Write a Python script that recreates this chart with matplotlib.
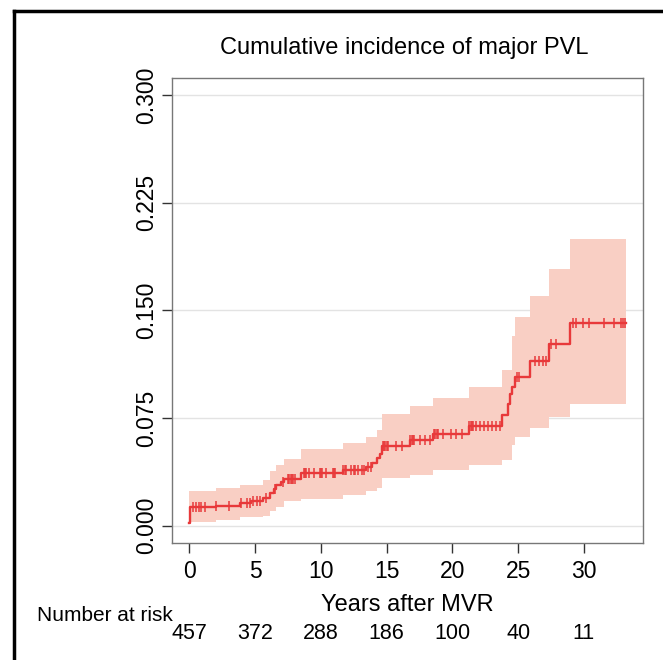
import numpy as np
import matplotlib
matplotlib.use("Agg")
import matplotlib.pyplot as plt
from matplotlib.transforms import blended_transform_factory
from matplotlib.lines import Line2D

plt.rcParams['font.family'] = ['Liberation Sans', 'DejaVu Sans']

# step times (years) and cumulative incidence with 95% CI
times = [0, 0.05, 2.03, 3.85, 4.69, 5.6, 6.09, 6.4, 6.6, 6.98, 7.2, 8.45,
         11.65, 13.4, 13.9, 14.25, 14.46, 14.66, 16.74, 18.55, 21.26,
         23.8, 24.2, 24.4, 24.5, 24.73, 25.93, 27.35, 28.92, 33.18]
cif = [0.002, 0.0128, 0.0139, 0.0158, 0.0174, 0.0193, 0.0227, 0.0255,
       0.0285, 0.0308, 0.0325, 0.0367, 0.039, 0.041, 0.0436, 0.047,
       0.050, 0.0557, 0.0599, 0.064, 0.0695, 0.077, 0.085, 0.092, 0.097,
       0.104, 0.1146, 0.127, 0.1415, 0.1415]
lower = [0.0023, 0.0023, 0.0042, 0.0058, 0.0058, 0.007, 0.010, 0.010,
         0.0134, 0.0134, 0.017, 0.0186, 0.0216, 0.024, 0.024, 0.026,
         0.026, 0.033, 0.0355, 0.039, 0.0424, 0.046, 0.046, 0.046, 0.0564,
         0.0617, 0.068, 0.0756, 0.085, 0.085]
upper = [0.024, 0.024, 0.026, 0.0285, 0.0285, 0.032, 0.0385, 0.0385,
         0.0424, 0.0424, 0.0464, 0.0534, 0.0575, 0.062, 0.062, 0.067,
         0.067, 0.078, 0.0835, 0.089, 0.097, 0.1086, 0.1086, 0.1086, 0.132,
         0.1457, 0.160, 0.1786, 0.1995, 0.1995]

# censored observations (years)
censor = [0.3, 0.5, 0.7, 0.9, 1.2, 2.03, 3.04, 3.9, 4.35, 4.6, 4.8, 5.1, 5.4,
          5.8, 6.5, 7.1, 7.5, 7.6, 7.7, 7.8, 7.9, 8.0, 8.7, 8.8, 8.9, 9.1,
          9.5, 9.9, 10.0, 10.1, 10.4, 10.9, 11.0, 11.1, 11.7, 11.8, 11.9,
          12.3, 12.5, 12.6, 12.8, 13.1, 13.3, 13.6, 13.8, 14.7, 14.8, 14.9,
          15.0, 15.1, 15.7, 16.2, 16.8, 16.9, 17.0, 17.1, 17.5, 17.9, 18.3,
          18.6, 18.7, 18.8, 18.9, 19.3, 19.9, 20.3, 20.7, 21.3, 21.4, 21.5,
          21.6, 21.8, 22.1, 22.4, 22.7, 23.0, 23.3, 23.6, 24.9, 25.1, 26.3,
          26.6, 26.9, 27.1, 27.5, 27.9, 29.2, 29.4, 29.9, 30.4, 31.5, 32.3,
          32.8, 33.0, 33.1]

xticks = [0, 5, 10, 15, 20, 25, 30]
yticks = [0.0, 0.075, 0.15, 0.225, 0.3]
at_risk = [457, 372, 288, 186, 100, 40, 11]

red = '#E8393A'
band = '#F9CFC4'

fig = plt.figure(figsize=(6.63, 6.60), dpi=100)
ax = fig.add_axes([0.2594, 0.1773, 0.7104, 0.7045])

for y in yticks:
    ax.axhline(y, color='#E3E3E3', lw=1.0, zorder=0)

ax.fill_between(times, lower, upper, step='post', color=band, lw=0, zorder=1)
ax.step(times, cif, where='post', color=red, lw=1.7, zorder=3)

idx = np.searchsorted(times, censor, side='right') - 1
cy = np.array(cif)[idx]
ax.plot(censor, cy, ls='none', marker='|', ms=7, mew=1.1, color=red, zorder=4)

ax.set_xlim(-1.33, 34.5)
ax.set_ylim(-0.012, 0.312)
ax.set_xticks(xticks)
ax.set_yticks(yticks)
ax.set_yticklabels(['%.3f' % v for v in yticks], rotation=90, va='center')
ax.tick_params(axis='both', length=7, width=1.0, color='#333333')
ax.tick_params(axis='x', labelsize=16.5, pad=5)
ax.tick_params(axis='y', labelsize=16.5, pad=3)
for s in ax.spines.values():
    s.set_color('#777777')
    s.set_linewidth(1.0)

fig.text(0.609, 0.927, 'Cumulative incidence of major PVL', ha='center',
         va='center', fontsize=17)
fig.text(0.615, 0.083, 'Years after MVR', ha='center', va='center',
         fontsize=17)
fig.text(0.159, 0.068, 'Number at risk', ha='center', va='center',
         fontsize=15)

tr = blended_transform_factory(ax.transData, fig.transFigure)
for x, n in zip(xticks, at_risk):
    ax.text(x, 0.040, str(n), transform=tr, ha='center', va='center',
            fontsize=15.5, clip_on=False)

# frame remnant at left and top of the image
fig.add_artist(Line2D([14 / 663, 14 / 663], [0, 1 - 11 / 660],
                      transform=fig.transFigure, color='black', lw=2.5))
fig.add_artist(Line2D([14 / 663, 1], [1 - 11 / 660, 1 - 11 / 660],
                      transform=fig.transFigure, color='black', lw=2.5))

fig.savefig('out.png', dpi=100)
